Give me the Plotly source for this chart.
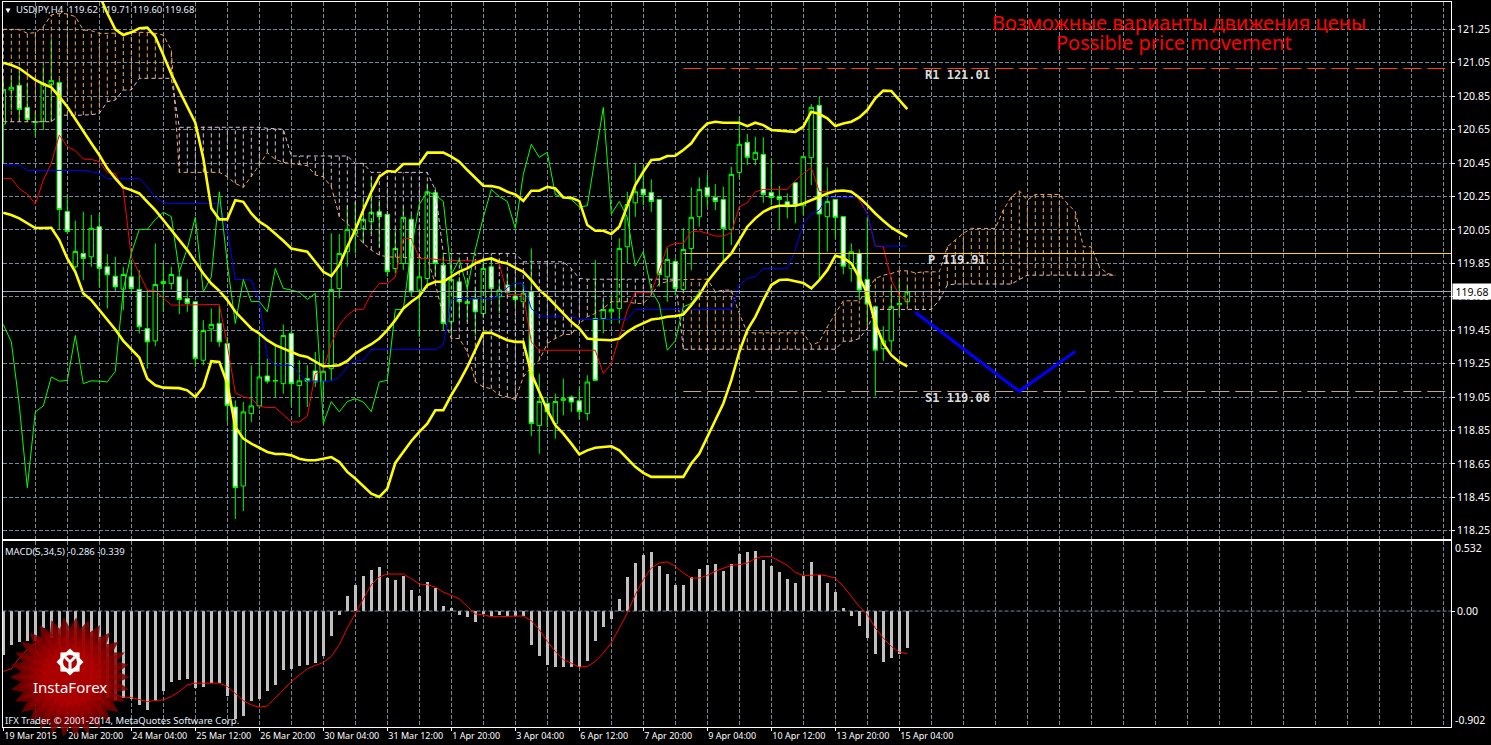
import numpy as np
import plotly.graph_objects as go

W, H = 1491, 745

opens = [120.683,120.887,120.915,120.783,120.693,120.699,120.919,120.931,120.16,119.829,119.909,119.889,120.069,119.829,119.773,119.695,119.769,119.693,119.46,119.386,
119.729,119.729,119.769,119.64,119.62,119.27,119.458,119.49,119.37,118.99,118.518,118.951,118.997,119.176,119.145,119.13,119.43,119.119,119.16,119.206,
119.145,119.22,119.699,119.919,120.029,120.057,120.099,120.159,120.143,119.819,119.849,120.113,119.69,119.759,120.272,119.839,119.5,119.739,119.61,119.634,
119.55,119.829,119.65,119.72,119.654,119.62,119.68,118.879,119.011,118.891,119.03,119.05,119.027,118.951,119.52,119.52,119.56,119.58,119.949,120.212,
120.294,120.274,120.232,119.769,119.861,119.694,119.939,120.129,120.304,120.244,120.232,120.053,120.394,120.574,120.472,120.502,120.274,120.25,120.218,120.332,
120.194,120.482,120.795,120.129,120.232,120.129,119.819,119.909,119.753,119.59,119.34,119.386,119.602,119.62]
highs = [120.947,120.977,120.997,120.927,120.747,121.027,121.196,120.947,120.258,120.105,120.159,120.139,120.149,119.905,119.889,119.829,119.869,119.809,119.69,119.969,
119.849,119.829,119.809,119.755,119.62,119.51,119.58,119.60,119.41,119.03,119.02,119.24,119.43,119.28,119.36,119.484,119.446,119.27,119.24,119.32,
119.33,120.03,120.025,120.2,120.218,120.228,120.368,120.228,120.143,120.049,120.188,120.139,119.89,120.328,120.304,119.909,119.85,119.77,119.75,119.71,
119.87,119.89,119.75,119.79,119.75,119.73,119.939,119.19,119.05,119.07,119.16,119.06,119.11,119.18,119.87,119.63,119.66,120.0,120.278,120.444,
120.438,120.352,120.232,119.94,119.88,120.06,120.304,120.364,120.384,120.324,120.308,120.428,120.727,120.624,120.608,120.604,120.478,120.312,120.268,120.332,
120.488,120.803,120.847,120.424,120.232,120.129,119.969,119.933,120.128,119.59,119.474,119.71,119.75,119.71]
lows = [120.448,120.767,120.703,120.695,120.608,120.648,120.697,120.049,120.029,119.819,119.749,119.829,119.709,119.58,119.679,119.57,119.67,119.43,119.22,119.354,
119.56,119.693,119.546,119.56,119.23,119.24,119.38,119.35,118.9,118.32,118.368,118.9,118.98,119.13,119.05,119.07,119.0,118.93,118.99,119.11,
119.05,119.15,119.64,119.83,119.909,119.969,120.029,119.949,119.77,119.79,119.81,119.65,119.41,119.7,119.77,119.45,119.43,119.52,119.5,119.42,
119.52,119.63,119.55,119.65,119.6,119.58,118.817,118.71,118.87,118.8,118.94,118.96,118.92,118.91,119.145,119.43,119.486,119.49,119.85,120.128,
120.198,120.158,119.71,119.62,119.66,119.67,119.81,120.069,120.188,120.168,119.849,119.959,120.358,120.438,120.438,120.212,120.198,120.053,120.119,120.089,
120.139,120.318,119.749,119.919,120.0,119.785,119.74,119.63,119.48,119.055,119.266,119.32,119.534,119.60]
closes = [120.891,120.903,120.771,120.711,120.697,120.927,120.943,120.172,120.041,119.921,119.879,120.059,119.819,119.781,119.709,119.783,119.699,119.47,119.38,119.723,
119.741,119.783,119.634,119.61,119.28,119.448,119.484,119.38,119.0,118.508,118.961,118.997,119.17,119.145,119.149,119.418,119.13,119.147,119.145,119.14,
119.204,119.693,119.909,120.053,120.053,120.113,120.155,120.129,119.8,119.939,120.125,119.679,119.769,120.278,119.849,119.49,119.753,119.62,119.622,119.56,
119.819,119.7,119.69,119.677,119.634,119.67,118.891,119.023,118.961,119.023,119.04,119.02,118.963,119.14,119.15,119.574,119.574,119.939,120.202,120.278,
120.26,120.22,119.783,119.873,119.7,119.933,120.125,120.292,120.25,120.22,120.059,120.382,120.562,120.484,120.514,120.262,120.244,120.232,120.188,120.194,
120.488,120.783,120.145,120.22,120.125,119.833,119.919,119.69,119.606,119.33,119.386,119.59,119.61,119.68]

upper_x = list(range(12, 114))
upper_band = [121.456,121.346,121.25,121.216,121.232,121.256,121.26,121.206,121.097,120.983,120.883,120.787,120.691,120.478,120.179,120.113,120.113,120.228,120.218,120.148,
120.099,120.069,120.029,119.985,119.939,119.929,119.919,119.859,119.799,119.773,119.839,119.949,120.049,120.169,120.278,120.368,120.402,120.398,120.444,120.444,
120.444,120.512,120.512,120.512,120.488,120.458,120.408,120.358,120.314,120.312,120.302,120.278,120.262,120.224,120.284,120.284,120.308,120.298,120.244,120.242,
120.222,120.079,120.045,120.045,120.025,120.069,120.198,120.318,120.398,120.468,120.472,120.492,120.494,120.528,120.568,120.638,120.687,120.697,120.691,120.691,
120.691,120.671,120.691,120.677,120.648,120.644,120.642,120.636,120.668,120.757,120.743,120.717,120.671,120.687,120.697,120.723,120.767,120.837,120.883,120.881,
120.827,120.773]
middle_band = [121.05,121.037,121.017,120.983,120.947,120.923,120.903,120.847,120.787,120.713,120.638,120.568,120.498,120.418,120.358,120.304,120.288,120.268,120.218,120.168,
120.109,120.049,119.989,119.929,119.859,119.789,119.729,119.685,119.63,119.56,119.51,119.46,119.43,119.39,119.36,119.34,119.32,119.30,119.29,119.26,
119.234,119.236,119.24,119.266,119.31,119.34,119.366,119.40,119.45,119.51,119.58,119.62,119.654,119.72,119.74,119.74,119.77,119.80,119.82,119.85,
119.87,119.879,119.859,119.849,119.823,119.799,119.749,119.69,119.65,119.60,119.55,119.50,119.46,119.40,119.394,119.39,119.39,119.40,119.44,119.47,
119.494,119.514,119.52,119.53,119.534,119.544,119.60,119.66,119.74,119.80,119.859,119.909,119.989,120.069,120.119,120.158,120.182,120.194,120.194,120.194,
120.208,120.228,120.248,120.268,120.282,120.286,120.278,120.244,120.198,120.148,120.105,120.065,120.035,120.009]
lower_band = [120.153,120.139,120.119,120.089,120.061,120.061,120.063,119.989,119.879,119.799,119.67,119.63,119.57,119.51,119.454,119.386,119.334,119.286,119.16,119.12,
119.106,119.104,119.103,119.09,119.05,119.11,119.264,119.26,119.13,118.871,118.801,118.771,118.747,118.721,118.709,118.709,118.701,118.681,118.672,118.672,
118.681,118.691,118.662,118.602,118.562,118.516,118.472,118.452,118.502,118.656,118.721,118.787,118.841,118.891,118.971,118.971,119.061,119.141,119.23,119.33,
119.434,119.434,119.414,119.39,119.38,119.38,119.19,119.08,118.971,118.881,118.831,118.771,118.707,118.731,118.747,118.751,118.755,118.731,118.681,118.632,
118.596,118.572,118.572,118.572,118.572,118.572,118.652,118.711,118.811,118.911,119.011,119.151,119.32,119.45,119.53,119.63,119.72,119.75,119.753,119.743,
119.733,119.70,119.749,119.809,119.895,119.883,119.849,119.765,119.67,119.49,119.37,119.30,119.26,119.234]

tenkan = [120.358,120.358,120.296,120.264,120.204,120.348,120.448,120.618,120.548,120.524,120.474,120.472,120.458,120.392,120.388,120.288,119.889,119.789,119.69,119.686,
119.644,119.60,119.60,119.60,119.60,119.60,119.60,119.604,119.36,119.075,119.051,119.041,118.995,118.987,118.987,118.945,118.901,118.901,118.935,119.19,
119.21,119.37,119.48,119.54,119.574,119.574,119.67,119.729,119.729,119.769,119.999,119.999,119.879,119.879,119.873,119.869,119.867,119.865,119.865,119.865,
119.873,119.879,119.849,119.664,119.664,119.664,119.38,119.33,119.33,119.33,119.33,119.33,119.33,119.33,119.33,119.19,119.25,119.41,119.57,119.676,
119.676,119.676,119.809,119.949,119.969,119.969,120.039,120.043,120.029,120.013,120.013,120.033,120.188,120.212,120.278,120.292,120.292,120.292,120.292,120.344,
120.388,120.422,120.278,120.278,120.282,120.284,120.284,120.228,120.148,119.953,119.949,119.749,119.66,119.62]
kijun = [120.438,120.438,120.438,120.406,120.406,120.406,120.406,120.406,120.406,120.406,120.406,120.398,120.388,120.358,120.358,120.358,120.358,120.358,120.308,120.244,
120.214,120.208,120.208,120.208,120.208,120.208,120.208,120.208,120.049,119.753,119.753,119.749,119.62,119.29,119.24,119.24,119.24,119.19,119.145,119.145,
119.145,119.145,119.17,119.23,119.27,119.27,119.334,119.334,119.334,119.334,119.334,119.334,119.334,119.334,119.334,119.36,119.63,119.64,119.64,119.64,
119.64,119.64,119.654,119.706,119.729,119.729,119.58,119.534,119.534,119.534,119.534,119.534,119.514,119.514,119.514,119.514,119.514,119.514,119.514,119.574,
119.574,119.574,119.574,119.574,119.574,119.574,119.574,119.574,119.574,119.574,119.574,119.574,119.72,119.76,119.77,119.82,119.82,119.82,119.82,119.929,
120.089,120.145,120.168,120.244,120.244,120.244,120.244,120.244,120.148,119.953,119.953,119.953,119.953,119.953]

span_a = [121.25,121.25,121.25,121.226,121.23,121.266,121.336,121.346,121.342,121.326,121.246,121.242,121.226,121.226,121.226,121.226,121.23,121.232,121.232,121.226,
121.216,121.127,120.394,120.394,120.394,120.394,120.394,120.394,120.368,120.328,120.304,120.368,120.438,120.512,120.472,120.454,120.448,120.442,120.434,120.378,
120.368,120.308,120.129,120.089,120.029,119.969,119.929,119.899,119.889,119.885,119.885,119.885,119.885,119.879,119.729,119.53,119.40,119.40,119.32,119.141,
119.11,119.10,119.061,119.051,119.035,119.17,119.23,119.27,119.37,119.40,119.424,119.424,119.49,119.53,119.55,119.58,119.62,119.62,119.62,119.61,
119.61,119.66,119.729,119.74,119.75,119.753,119.755,119.755,119.755,119.68,119.69,119.69,119.55,119.434,119.434,119.434,119.434,119.434,119.434,119.434,
119.434,119.36,119.38,119.47,119.55,119.626,119.626,119.626,119.69,119.759,119.779,119.789,119.805,119.805,119.793,119.799,119.799,119.799,119.949,119.989,
120.029,120.059,120.059,120.059,120.059,120.169,120.248,120.284,120.228,120.262,120.262,120.262,120.262,120.208,120.159,119.949,119.949,119.829,119.789,119.779]
span_b = [120.697,120.697,120.697,120.697,120.697,120.697,120.697,120.737,120.735,120.735,120.737,120.739,120.747,120.817,120.827,120.887,120.887,120.957,120.957,120.957,
120.957,120.957,120.664,120.664,120.668,120.668,120.668,120.664,120.664,120.664,120.664,120.664,120.664,120.658,120.656,120.652,120.492,120.492,120.492,120.492,
120.492,120.492,120.492,120.492,120.448,120.448,120.394,120.394,120.394,120.394,120.394,120.394,120.394,120.394,120.288,119.909,119.909,119.909,119.909,119.909,
119.909,119.909,119.909,119.909,119.909,119.859,119.859,119.859,119.859,119.859,119.859,119.819,119.759,119.755,119.755,119.755,119.755,119.755,119.755,119.755,
119.755,119.755,119.755,119.755,119.755,119.336,119.336,119.336,119.336,119.336,119.336,119.336,119.336,119.336,119.336,119.336,119.336,119.336,119.336,119.336,
119.336,119.336,119.336,119.336,119.336,119.384,119.384,119.40,119.46,119.574,119.574,119.574,119.574,119.574,119.574,119.574,119.574,119.63,119.72,119.726,
119.726,119.726,119.726,119.726,119.726,119.726,119.726,119.753,119.779,119.779,119.779,119.779,119.779,119.779,119.779,119.779,119.779,119.779,119.779,119.779]

macd_hist = [-0.345,-0.262,-0.242,-0.231,-0.236,-0.132,-0.21,-0.293,-0.301,-0.392,-0.496,-0.613,-0.639,-0.678,-0.691,-0.678,-0.686,-0.73,-0.769,-0.696,
-0.621,-0.548,-0.54,-0.527,-0.60,-0.587,-0.561,-0.561,-0.657,-0.839,-0.813,-0.696,-0.683,-0.621,-0.574,-0.457,-0.449,-0.431,-0.418,-0.405,
-0.353,-0.192,-0.029,0.119,0.205,0.275,0.322,0.343,0.257,0.244,0.275,0.166,0.119,0.226,0.179,0.042,0.026,-0.029,-0.049,-0.088,
-0.023,-0.036,-0.029,-0.036,-0.036,-0.042,-0.267,-0.353,-0.423,-0.439,-0.439,-0.439,-0.436,-0.387,-0.236,-0.127,-0.06,0.096,0.262,0.377,
0.439,0.462,0.348,0.291,0.205,0.205,0.265,0.33,0.361,0.369,0.314,0.369,0.447,0.462,0.47,0.40,0.348,0.301,0.252,0.221,
0.275,0.384,0.278,0.221,0.151,0.026,-0.036,-0.114,-0.208,-0.332,-0.395,-0.364,-0.332,-0.286]
macd_signal = [-0.47,-0.449,-0.366,-0.301,-0.249,-0.21,-0.184,-0.197,-0.262,-0.327,-0.418,-0.509,-0.587,-0.626,-0.652,-0.67,-0.673,-0.691,-0.704,-0.696,
-0.691,-0.665,-0.626,-0.574,-0.561,-0.561,-0.561,-0.561,-0.587,-0.639,-0.696,-0.73,-0.748,-0.738,-0.678,-0.613,-0.548,-0.496,-0.449,-0.423,
-0.40,-0.353,-0.262,-0.132,-0.016,0.101,0.205,0.265,0.288,0.288,0.288,0.252,0.21,0.205,0.187,0.148,0.119,0.096,0.036,-0.023,
-0.029,-0.044,-0.044,-0.039,-0.039,-0.039,-0.075,-0.145,-0.236,-0.314,-0.379,-0.405,-0.436,-0.431,-0.392,-0.327,-0.249,-0.132,-0.016,0.127,
0.244,0.335,0.374,0.382,0.348,0.296,0.257,0.257,0.278,0.309,0.33,0.356,0.361,0.374,0.408,0.426,0.423,0.392,0.356,0.301,
0.275,0.278,0.283,0.273,0.257,0.192,0.114,0.036,-0.029,-0.132,-0.21,-0.275,-0.319,-0.332]

tick_labels = ["19 Mar 2015","20 Mar 20:00","24 Mar 04:00","25 Mar 12:00","26 Mar 20:00","30 Mar 04:00","31 Mar 12:00","1 Apr 20:00",
               "3 Apr 04:00","6 Apr 12:00","7 Apr 20:00","9 Apr 04:00","10 Apr 12:00","13 Apr 20:00","15 Apr 04:00"]
R1, PIVOT, S1, LAST = 121.0155, 119.9087, 119.083, 119.6813
level_x = [85, 181]
forecast_x = [114, 127, 134]
forecast_y = [119.557, 119.084, 119.323]

bars = list(range(len(closes)))
PX = lambda x: x / W
PY = lambda y: 1 - y / H
GRID = "#778899"
GRID_DASH = "4px,2px"

fig = go.Figure()
fig.add_trace(go.Candlestick(x=bars, open=opens, high=highs, low=lows, close=closes,
    increasing=dict(line=dict(color="#00ff00", width=1), fillcolor="#000000"),
    decreasing=dict(line=dict(color="#00ff00", width=1), fillcolor="#ffffff"),
    whiskerwidth=0, showlegend=False))

# cloud hatch from the two spans
hs_x, hs_y, ht_x, ht_y = [], [], [], []
for i, (a, b) in enumerate(zip(span_a, span_b)):
    if a >= b:
        hs_x += [i, i, None]; hs_y += [b, a, None]
    else:
        ht_x += [i, i, None]; ht_y += [a, b, None]
cloud_x = list(range(len(span_a)))
fig.add_trace(go.Scatter(x=hs_x, y=hs_y, mode="lines", line=dict(color="#f4a460", width=1, dash="4px,3px"), hoverinfo="skip"))
fig.add_trace(go.Scatter(x=ht_x, y=ht_y, mode="lines", line=dict(color="#d8bfd8", width=1, dash="4px,3px"), hoverinfo="skip"))
fig.add_trace(go.Scatter(x=cloud_x, y=span_a, mode="lines", line=dict(color="#f4a460", width=1, dash="4px,3px")))
fig.add_trace(go.Scatter(x=cloud_x, y=span_b, mode="lines", line=dict(color="#d8bfd8", width=1, dash="4px,3px")))

fig.add_trace(go.Scatter(x=bars, y=tenkan, mode="lines", line=dict(color="#ff0000", width=1)))
fig.add_trace(go.Scatter(x=bars, y=kijun, mode="lines", line=dict(color="#0000ff", width=1)))
fig.add_trace(go.Scatter(x=bars[:88], y=closes[26:], mode="lines", line=dict(color="#00ff00", width=1)))
fig.add_trace(go.Scatter(x=upper_x, y=upper_band, mode="lines", line=dict(color="#ffff00", width=2.6)))
fig.add_trace(go.Scatter(x=bars, y=middle_band, mode="lines", line=dict(color="#ffff00", width=2.6)))
fig.add_trace(go.Scatter(x=bars, y=lower_band, mode="lines", line=dict(color="#ffff00", width=2.6)))

fig.add_trace(go.Scatter(x=level_x, y=[R1, R1], mode="lines", line=dict(color="#ff4500", width=1, dash="18px,6px")))
fig.add_trace(go.Scatter(x=level_x, y=[PIVOT, PIVOT], mode="lines", line=dict(color="#ffd700", width=1)))
fig.add_trace(go.Scatter(x=level_x, y=[S1, S1], mode="lines", line=dict(color="#c8a09a", width=1, dash="18px,6px")))
fig.add_trace(go.Scatter(x=[-0.1, 181], y=[LAST, LAST], mode="lines", line=dict(color="#9aa8b4", width=1)))
fig.add_trace(go.Scatter(x=forecast_x, y=forecast_y, mode="lines", line=dict(color="#0000ff", width=3)))

fig.add_trace(go.Bar(x=bars, y=macd_hist, width=0.375, marker=dict(color="#c0c0c0", line=dict(width=0)), xaxis="x2", yaxis="y2"))
fig.add_trace(go.Scatter(x=[-0.1, 181], y=[0, 0], mode="lines", line=dict(color=GRID, width=1, dash=GRID_DASH), xaxis="x2", yaxis="y2"))
fig.add_trace(go.Scatter(x=bars, y=macd_signal, mode="lines", line=dict(color="#ff0000", width=1), xaxis="x2", yaxis="y2"))

FONT = "Noto Sans"
xmin, xmax = -0.1, 180.96
axcommon = dict(range=[xmin, xmax], showline=True, linecolor="#ffffff", linewidth=1, mirror=True,
                domain=[PX(2.5), PX(1451)], zeroline=False, automargin=False, tickangle=0,
                minor=dict(tick0=0, dtick=4, showgrid=True, gridcolor=GRID, griddash=GRID_DASH, gridwidth=1),
                gridcolor=GRID, griddash=GRID_DASH, showgrid=True)
fig.update_layout(
    width=W, height=H, margin=dict(l=0, r=0, t=0, b=0, autoexpand=False), paper_bgcolor="#000000", plot_bgcolor="#000000",
    showlegend=False, boxgap=0.2, boxgroupgap=0.3, bargap=0, hovermode=False,
    font=dict(family=FONT, color="#ffffff", size=10),
    xaxis=dict(axcommon, anchor="y", showticklabels=False, rangeslider=dict(visible=False),
               tickmode="array", tickvals=[i * 8 for i in range(len(tick_labels))], ticks=""),
    xaxis2=dict(axcommon, anchor="y2", tickmode="array", tickvals=[i * 8 for i in range(len(tick_labels))],
                ticktext=tick_labels, ticks="outside", ticklen=3, tickcolor="#ffffff",
                ticklabelposition="outside right", tickfont=dict(family=FONT, size=9, color="#ffffff")),
    yaxis=dict(domain=[PY(539), PY(2)], range=[118.2005, 121.4135], side="right", anchor="x", tick0=118.25, dtick=0.2,
               tickformat=".2f", showgrid=True, gridcolor=GRID, griddash=GRID_DASH, zeroline=False, automargin=False,
               showline=True, linecolor="#ffffff", mirror=True, ticks="outside", ticklen=3, tickcolor="#ffffff",
               tickfont=dict(family=FONT, size=10.5, color="#ffffff")),
    yaxis2=dict(domain=[PY(727), PY(541)], range=[-0.902, 0.545], side="right", anchor="x2", tickmode="array",
                tickvals=[0], ticktext=["0.00"], showgrid=False, zeroline=False, showline=True, linecolor="#ffffff",
                mirror=True, ticks="outside", ticklen=3, tickcolor="#ffffff", automargin=False,
                tickfont=dict(family=FONT, size=10.5, color="#ffffff")),
)

def note(text, x, y, anchor="left", size=9.5, color="#ffffff", family=FONT):
    fig.add_annotation(text=text, x=PX(x), y=PY(y), xref="paper", yref="paper", xanchor=anchor, yanchor="middle",
                       showarrow=False, font=dict(family=family, size=size, color=color), borderpad=0, borderwidth=0)

note("▼", 4, 10, size=8)
note("USDJPY,H4 &nbsp;119.62 119.71 119.60 119.68", 16, 10, color="#e4efff")
note("MACD(5,34,5) -0.286 -0.339", 5, 551, color="#e4efff")
note("IFX Trader, © 2001-2014, MetaQuotes Software Corp.", 5, 720, color="#e4efff")
note("Возможные варианты движения цены", 1179, 22, "center", 20, "#ff0000")
note("Possible price movement", 1174, 43, "center", 20, "#ff0000")
MONO = "DejaVu Sans Mono"
note("<b>R1 121.01</b>", 925, 75, size=12, color="#dddddd", family=MONO)
note("<b>P 119.91</b>", 928, 260, size=12, color="#dddddd", family=MONO)
note("<b>S1 119.08</b>", 925, 398, size=12, color="#dddddd", family=MONO)
note("0.532", 1455, 548, size=10.5)
note("-0.902", 1455, 720, size=10.5)
fig.add_annotation(text="119.68", x=PX(1452), y=PY(291), xref="paper", yref="paper", xanchor="left", yanchor="middle",
                   showarrow=False, bgcolor="#ffffff", font=dict(family=FONT, size=10.5, color="#000000"), width=36, height=13)

# InstaForex badge, drawn in page pixels
def star_path(cx, cy, r_out, r_in, n):
    ang = np.arange(2 * n) * np.pi / n
    rad = np.where(np.arange(2 * n) % 2 == 0, r_out, r_in)
    xs = PX(cx + rad * np.cos(ang)); ys = PY(cy + rad * np.sin(ang))
    return "M " + " L ".join(f"{a:.5f},{b:.5f}" for a, b in zip(xs, ys)) + " Z"

for r, c, op in [(1.0, "#7c0000", 0.85), (0.86, "#940000", 0.55), (0.72, "#ac0000", 0.5), (0.55, "#bd0000", 0.5)]:
    fig.add_shape(type="path", path=star_path(70, 677, 60 * r, 49 * r, 30), xref="paper", yref="paper",
                  fillcolor=c, opacity=op, line=dict(width=0), layer="above")
fig.add_shape(type="path", path=star_path(70, 662, 13.5, 10.5, 8), xref="paper", yref="paper", fillcolor="#ffffff",
              line=dict(width=0), layer="above")
fig.add_shape(type="circle", x0=PX(63), x1=PX(77), y0=PY(669), y1=PY(655), xref="paper", yref="paper",
              fillcolor="#b00000", line=dict(width=0), layer="above")
fig.add_shape(type="path", path=f"M {PX(65)},{PY(657)} L {PX(70)},{PY(662)} L {PX(75)},{PY(657)} M {PX(70)},{PY(662)} L {PX(70)},{PY(674)}",
              xref="paper", yref="paper", line=dict(color="#ffffff", width=3), layer="above")
note("InstaForex", 70, 687, "center", 15, "#ffffff")

fig.write_html("out.html", config={"displayModeBar": False},
               post_script="document.body.style.margin='0';document.body.style.background='#000';document.documentElement.style.overflow='hidden';")
